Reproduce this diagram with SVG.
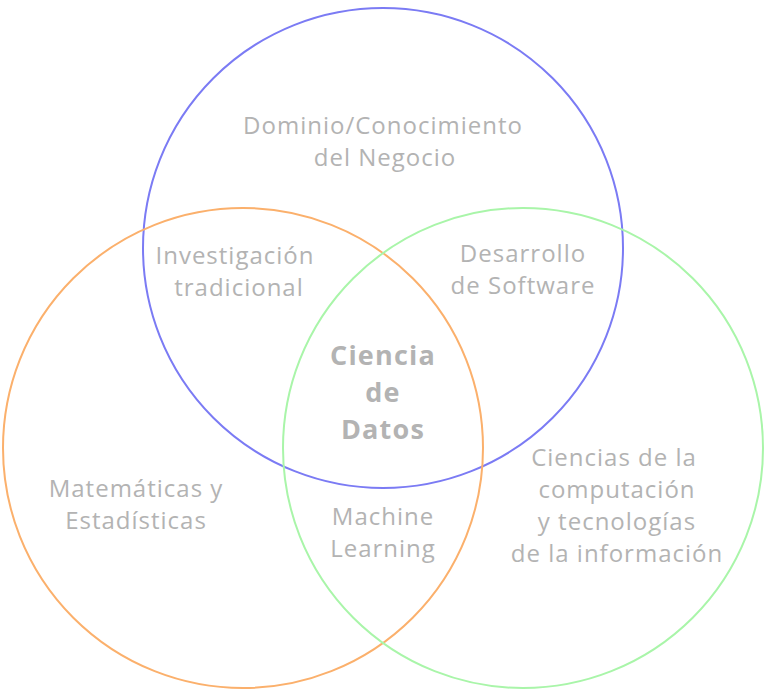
<svg xmlns="http://www.w3.org/2000/svg" width="768" height="694" viewBox="0 0 768 694">
<style>
.c{fill:none;stroke-width:2}
.t{font-family:"Open Sans","DejaVu Sans",sans-serif;font-size:24px;letter-spacing:1px;fill:#b3b3b3;text-anchor:middle}
.b{font-weight:bold;font-size:27px;letter-spacing:1.2px}
</style>
<rect width="768" height="694" fill="#ffffff"/>
<g id="connectors"></g>
<g id="circle-negocio"><circle class="c" cx="383" cy="248" r="240" stroke="#7b7bf4"/></g>
<g id="circle-mate"><circle class="c" cx="243" cy="448" r="240" stroke="#fbb06c"/></g>
<g id="circle-comp"><circle class="c" cx="523" cy="448" r="240" stroke="#a9f5a9"/></g>
<g id="label-negocio"><text class="t" x="383" y="134">Dominio/Conocimiento</text><text class="t" x="385" y="166">del Negocio</text></g>
<g id="label-invest"><text class="t" x="235" y="264">Investigación</text><text class="t" x="239" y="296">tradicional</text></g>
<g id="label-software"><text class="t" x="523" y="262">Desarrollo</text><text class="t" x="523" y="294">de Software</text></g>
<g id="label-ciencia"><text class="t b" x="383" y="365">Ciencia</text><text class="t b" x="383" y="402">de</text><text class="t b" x="383" y="439">Datos</text></g>
<g id="label-mate"><text class="t" x="136" y="497">Matemáticas y</text><text class="t" x="136" y="529">Estadísticas</text></g>
<g id="label-ml"><text class="t" x="383" y="525">Machine</text><text class="t" x="383" y="557">Learning</text></g>
<g id="label-comp"><text class="t" x="614" y="466">Ciencias de la</text><text class="t" x="617" y="498">computación</text><text class="t" x="617" y="530">y tecnologías</text><text class="t" x="617" y="562">de la información</text></g>
</svg>
